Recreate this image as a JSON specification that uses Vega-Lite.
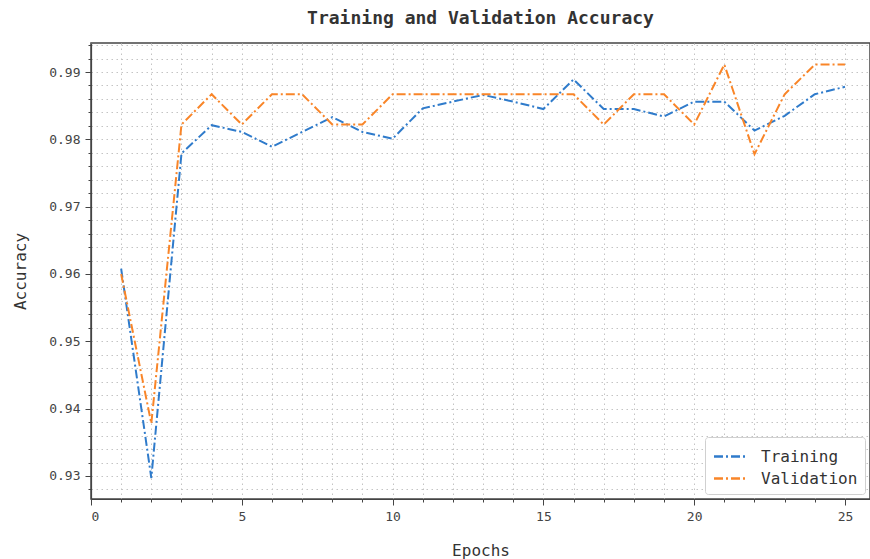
{
  "$schema": "https://vega.github.io/schema/vega-lite/v6.json",
  "autosize": "none",
  "width": 779,
  "height": 456,
  "padding": {"left": 91, "top": 43, "right": 0, "bottom": 60},
  "background": "white",
  "title": {
    "text": "Training and Validation Accuracy",
    "font": "DejaVu Sans Mono",
    "fontSize": 18,
    "fontWeight": "bold",
    "color": "#333",
    "anchor": "middle",
    "offset": 11
  },
  "config": {
    "view": {"stroke": "#444", "strokeWidth": 1.5},
    "axis": {
      "labelFont": "DejaVu Sans Mono",
      "titleFont": "DejaVu Sans Mono",
      "labelColor": "#444",
      "titleColor": "#333",
      "labelFontSize": 13,
      "titleFontSize": 16,
      "titleFontWeight": "normal",
      "domainColor": "#444",
      "domainWidth": 1.2,
      "tickColor": "#444",
      "gridColor": "#c4c4c4",
      "gridDash": [1.5, 3.5],
      "gridWidth": 1
    }
  },
  "data": {
    "values": [
      {"epoch": 1, "series": "Training", "accuracy": 0.9608},
      {"epoch": 2, "series": "Training", "accuracy": 0.9297},
      {"epoch": 3, "series": "Training", "accuracy": 0.9779},
      {"epoch": 4, "series": "Training", "accuracy": 0.9821},
      {"epoch": 5, "series": "Training", "accuracy": 0.9811},
      {"epoch": 6, "series": "Training", "accuracy": 0.9789},
      {"epoch": 7, "series": "Training", "accuracy": 0.9811},
      {"epoch": 8, "series": "Training", "accuracy": 0.9833},
      {"epoch": 9, "series": "Training", "accuracy": 0.9811},
      {"epoch": 10, "series": "Training", "accuracy": 0.9801},
      {"epoch": 11, "series": "Training", "accuracy": 0.9846},
      {"epoch": 12, "series": "Training", "accuracy": 0.9856},
      {"epoch": 13, "series": "Training", "accuracy": 0.9866},
      {"epoch": 14, "series": "Training", "accuracy": 0.9856},
      {"epoch": 15, "series": "Training", "accuracy": 0.9845},
      {"epoch": 16, "series": "Training", "accuracy": 0.9889},
      {"epoch": 17, "series": "Training", "accuracy": 0.9845},
      {"epoch": 18, "series": "Training", "accuracy": 0.9845},
      {"epoch": 19, "series": "Training", "accuracy": 0.9834},
      {"epoch": 20, "series": "Training", "accuracy": 0.9856},
      {"epoch": 21, "series": "Training", "accuracy": 0.9856},
      {"epoch": 22, "series": "Training", "accuracy": 0.9813},
      {"epoch": 23, "series": "Training", "accuracy": 0.9835},
      {"epoch": 24, "series": "Training", "accuracy": 0.9867},
      {"epoch": 25, "series": "Training", "accuracy": 0.9878},
      {"epoch": 1, "series": "Validation", "accuracy": 0.9600},
      {"epoch": 2, "series": "Validation", "accuracy": 0.9378},
      {"epoch": 3, "series": "Validation", "accuracy": 0.9822},
      {"epoch": 4, "series": "Validation", "accuracy": 0.9867},
      {"epoch": 5, "series": "Validation", "accuracy": 0.9822},
      {"epoch": 6, "series": "Validation", "accuracy": 0.9867},
      {"epoch": 7, "series": "Validation", "accuracy": 0.9867},
      {"epoch": 8, "series": "Validation", "accuracy": 0.9822},
      {"epoch": 9, "series": "Validation", "accuracy": 0.9822},
      {"epoch": 10, "series": "Validation", "accuracy": 0.9867},
      {"epoch": 11, "series": "Validation", "accuracy": 0.9867},
      {"epoch": 12, "series": "Validation", "accuracy": 0.9867},
      {"epoch": 13, "series": "Validation", "accuracy": 0.9867},
      {"epoch": 14, "series": "Validation", "accuracy": 0.9867},
      {"epoch": 15, "series": "Validation", "accuracy": 0.9867},
      {"epoch": 16, "series": "Validation", "accuracy": 0.9867},
      {"epoch": 17, "series": "Validation", "accuracy": 0.9822},
      {"epoch": 18, "series": "Validation", "accuracy": 0.9867},
      {"epoch": 19, "series": "Validation", "accuracy": 0.9867},
      {"epoch": 20, "series": "Validation", "accuracy": 0.9822},
      {"epoch": 21, "series": "Validation", "accuracy": 0.9911},
      {"epoch": 22, "series": "Validation", "accuracy": 0.9778},
      {"epoch": 23, "series": "Validation", "accuracy": 0.9867},
      {"epoch": 24, "series": "Validation", "accuracy": 0.9911},
      {"epoch": 25, "series": "Validation", "accuracy": 0.9911}
    ]
  },
  "mark": {"type": "line", "strokeWidth": 2, "strokeDash": [9, 3, 2, 3], "clip": true},
  "encoding": {
    "x": {
      "field": "epoch",
      "type": "quantitative",
      "scale": {"domain": [0, 25.83], "nice": false, "zero": false},
      "axis": {
        "title": "Epochs",
        "titlePadding": 19,
        "values": [0,1,2,3,4,5,6,7,8,9,10,11,12,13,14,15,16,17,18,19,20,21,22,23,24,25],
        "labelExpr": "datum.value % 5 == 0 ? datum.label : ''",
        "labelOverlap": false,
        "labelPadding": 5,
        "tickSize": {"condition": {"test": "datum.value % 5 == 0", "value": 6}, "value": 3},
        "grid": true
      }
    },
    "y": {
      "field": "accuracy",
      "type": "quantitative",
      "scale": {"domain": [0.92658, 0.99431], "nice": false, "zero": false},
      "axis": {
        "title": "Accuracy",
        "titlePadding": 20,
        "values": [0.928,0.93,0.932,0.934,0.936,0.938,0.94,0.942,0.944,0.946,0.948,0.95,0.952,0.954,0.956,0.958,0.96,0.962,0.964,0.966,0.968,0.97,0.972,0.974,0.976,0.978,0.98,0.982,0.984,0.986,0.988,0.99,0.992,0.994],
        "labelExpr": "round(datum.value * 1000) % 10 == 0 ? format(datum.value, '.2f') : ''",
        "labelOverlap": false,
        "labelPadding": 5,
        "tickSize": {"condition": {"test": "round(datum.value * 1000) % 10 == 0", "value": 6}, "value": 3},
        "grid": true
      }
    },
    "color": {
      "field": "series",
      "type": "nominal",
      "scale": {"domain": ["Training", "Validation"], "range": ["#2f7bcb", "#f98528"]},
      "legend": {
        "title": null,
        "orient": "bottom-right",
        "offset": 5,
        "symbolType": "M-1.5,0H1.5",
        "symbolSize": 484,
        "symbolStrokeWidth": 2.5,
        "symbolDash": [9, 3, 2, 3],
        "symbolOffset": 6,
        "labelFont": "DejaVu Sans Mono",
        "labelFontSize": 16,
        "labelColor": "#333",
        "labelOffset": 18,
        "rowPadding": 1,
        "padding": 7,
        "fillColor": "white",
        "strokeColor": "#d0d0d0",
        "cornerRadius": 3
      }
    }
  }
}
